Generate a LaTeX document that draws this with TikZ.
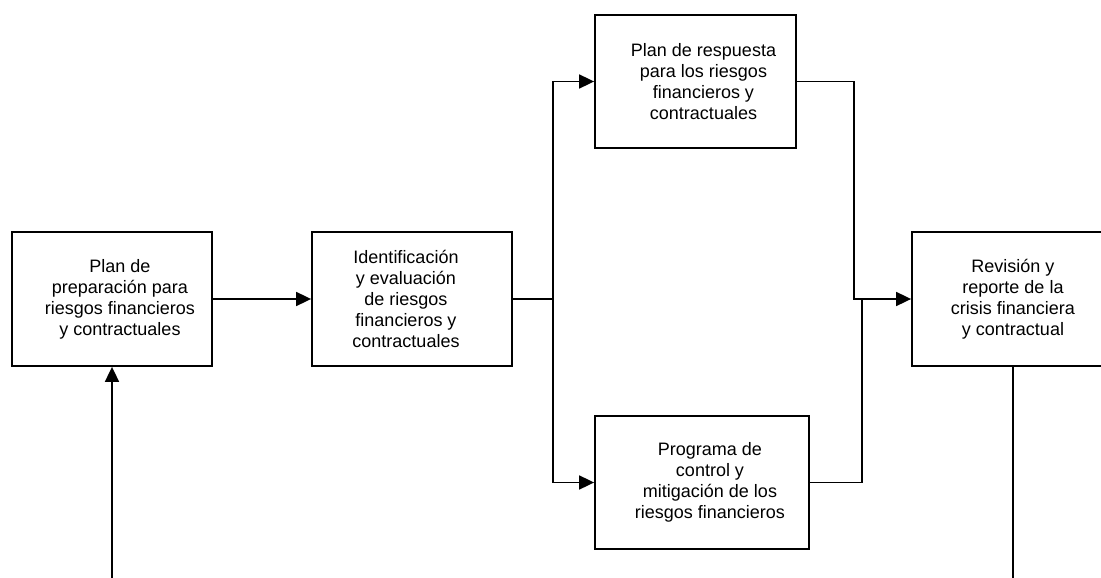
\documentclass[tikz,border=0pt]{standalone}
\usepackage{fontspec}
\setmainfont{Liberation Sans}
\usetikzlibrary{arrows.meta}
\tikzset{
  box/.style={draw, line width=1.8pt, inner sep=0pt, fill=white},
  txt/.style={align=center, font=\fontsize{18}{21}\selectfont, inner sep=0pt},
  link/.style={line width=1.8pt},
  arr/.style={link, -{Triangle[length=15pt, width=14pt]}}
}
\begin{document}
\begin{tikzpicture}[x=1pt, y=-1pt]
\useasboundingbox (0,0) rectangle (1101,578);
\fill[white] (0,0) rectangle (1101,578);
\begin{scope}
\clip (0,0) rectangle (1101,578);

% process boxes
\node[box, minimum width=200pt, minimum height=134pt] (A) at (112,299) {};
\node[box, minimum width=200pt, minimum height=134pt] (B) at (412,299) {};
\node[box, minimum width=201pt, minimum height=133pt] (C) at (695.5,81.5) {};
\node[box, minimum width=214pt, minimum height=133pt] (D) at (702,482.5) {};
\node[box, minimum width=202pt, minimum height=134pt] (E) at (1013,299) {};

% box texts
\node[txt] (At) at ([xshift=8pt]A.center) {Plan de\\preparación para\\riesgos financieros\\y contractuales};
\node[txt] (Bt) at ([xshift=-6pt]B.center) {Identificación\\y evaluación\\de riesgos\\financieros y\\contractuales};
\node[txt] (Ct) at ([xshift=8pt]C.center) {Plan de respuesta\\para los riesgos\\financieros y\\contractuales};
\node[txt] (Dt) at ([xshift=8pt]D.center) {Programa de\\control y\\mitigación de los\\riesgos financieros};
\node[txt] (Et) at (E.center) {Revisión y\\reporte de la\\crisis financiera\\y contractual};

% branch and merge points, open ends
\coordinate (split) at (553,299);
\coordinate (mergeC) at (854,299);
\coordinate (mergeD) at (862,299);
\coordinate (inA) at (112,578);
\coordinate (outE) at (1013,578);

% connectors
\draw[arr] (A.east) -- (B.west);
\draw[link] (B.east) -- (split);
\draw[arr] (split) |- (C.west);
\draw[arr] (split) |- (D.west);
\draw[arr] (C.east) -| (mergeC) -- (E.west);
\draw[link] (D.east) -| (mergeD);
\draw[arr] (inA) -- (A.south);
\draw[link] (E.south) -- (outE);
\end{scope}
\end{tikzpicture}
\end{document}
